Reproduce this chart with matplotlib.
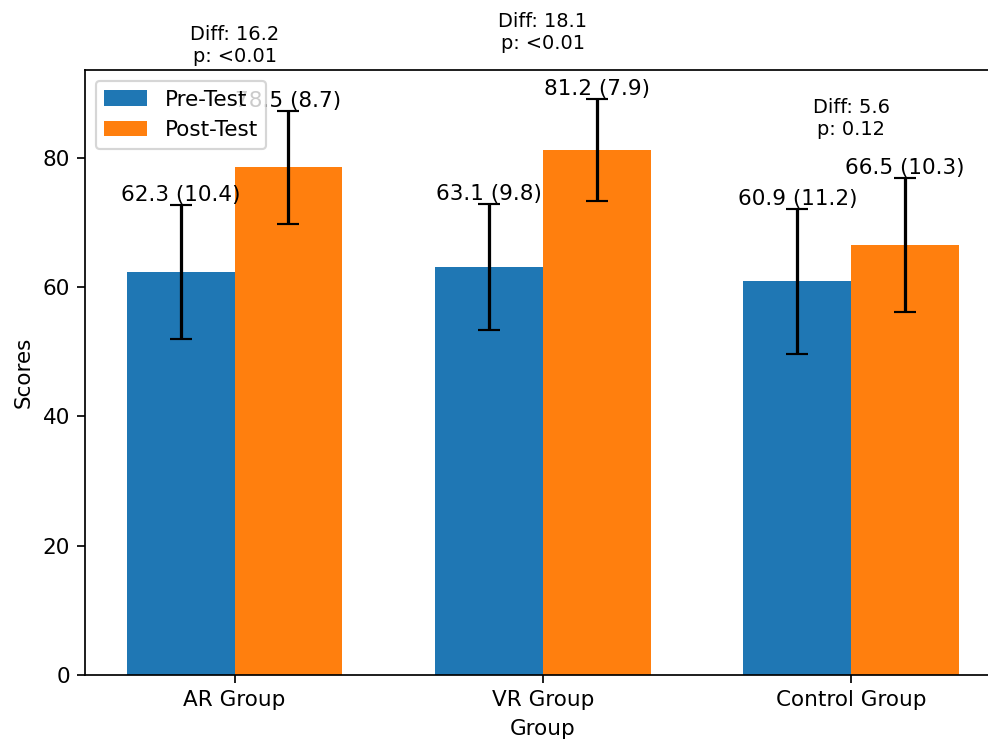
import matplotlib
matplotlib.use("Agg")
import matplotlib.pyplot as plt
import numpy as np

groups = ['AR Group', 'VR Group', 'Control Group']
pre_mean = [62.3, 63.1, 60.9]
pre_sd = [10.4, 9.8, 11.2]
post_mean = [78.5, 81.2, 66.5]
post_sd = [8.7, 7.9, 10.3]
diffs = [16.2, 18.1, 5.6]
p_labels = ['<0.01', '<0.01', '0.12']

x = np.arange(len(groups))
width = 0.35

fig = plt.figure(figsize=(988 / 155, 744 / 155), dpi=155)
ax = fig.add_axes([0.086, 0.0927, 0.927, 0.813])

bars1 = ax.bar(x - width / 2, pre_mean, width, yerr=pre_sd, capsize=5, label='Pre-Test')
bars2 = ax.bar(x + width / 2, post_mean, width, yerr=post_sd, capsize=5, label='Post-Test')

# mean (sd) labels on top of the error bars
for bars, means, sds in [(bars1, pre_mean, pre_sd), (bars2, post_mean, post_sd)]:
    for b, m, s in zip(bars, means, sds):
        ax.text(b.get_x() + b.get_width() / 2, m + s, f'{m} ({s})',
                ha='center', va='bottom', fontsize=10)

# difference and p value above each group
for i in range(len(groups)):
    top = max(pre_mean[i] + pre_sd[i], post_mean[i] + post_sd[i])
    ax.text(x[i], top * 1.08, f'Diff: {diffs[i]}\np: {p_labels[i]}',
            ha='center', va='bottom', fontsize=9)

ax.set_xlabel('Group')
ax.set_ylabel('Scores')
ax.set_xticks(x)
ax.set_xticklabels(groups)
ax.legend(loc='upper left')

fig.savefig('out.png', dpi=155)
